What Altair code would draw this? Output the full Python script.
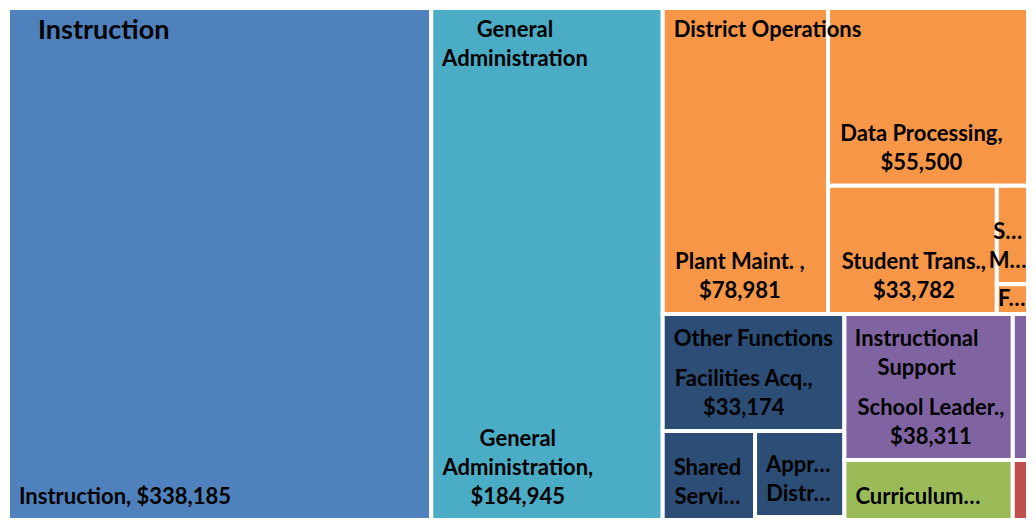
import altair as alt
import pandas as pd

# ---------------- data ----------------
group_names = ["Instruction", "General Administration", "District Operations",
               "Other Functions", "Instructional Support", "Curriculum", "Other"]
group_colors = ["#4F81BD", "#4BACC6", "#F79646", "#2C4D75", "#8064A2", "#9BBB59", "#C0504D"]
group_titles = ["Instruction", "General\nAdministration", "District Operations",
                "Other Functions", "Instructional\nSupport", "", ""]

leaf_names = ["Instruction", "General Administration", "Plant Maint.", "Data Processing",
              "Student Trans.", "S… M…", "F…", "Facilities Acq.", "Shared Services",
              "Appr… Distr…", "(small)", "School Leader.", "(small purple)", "Curriculum…",
              "(small red)"]
leaf_group = [0, 1, 2, 2, 2, 2, 2, 3, 3, 3, 3, 4, 4, 5, 6]
leaf_values = [338185, 184945, 78981, 55500, 33782, 4790, 1450, 33174, 12810,
               11980, 416, 38311, 3459, 15790, 1430]
leaf_labels = ["Instruction, $338,185", "General\nAdministration,\n$184,945",
               "Plant Maint. ,\n$78,981", "Data Processing,\n$55,500",
               "Student Trans.,\n$33,782", "S…\nM…", "F…", "Facilities Acq.,\n$33,174",
               "Shared\nServi…", "Appr…\nDistr…", "", "School Leader.,\n$38,311", "",
               "Curriculum…", ""]

# slicing structure of the treemap (h = side by side, v = stacked); sizes come from values
layout = ("h", [0, 1,
                ("v", [("h", [2, ("v", [3, ("h", [4, ("v", [5, 6])])])]),
                       ("h", [("v", [7, ("h", [8, ("v", [9, 10])])]),
                              ("v", [("h", [11, 12]), ("h", [13, 14])])])])])

# ---------------- layout ----------------
W, H = 1020, 512
PAD = 11
LH = 29
FS = 22
BIG = 27


def total(node):
    if isinstance(node, int):
        return leaf_values[node]
    return sum(total(c) for c in node[1])


rects = {}


def place(node, x0, y0, x1, y1):
    if isinstance(node, int):
        rects[node] = (x0, y0, x1, y1)
        return
    d, kids = node
    t = total(node)
    pos = x0 if d == "h" else y0
    for k in kids:
        f = total(k) / t
        if d == "h":
            w = (x1 - x0) * f
            place(k, pos, y0, pos + w, y1)
            pos += w
        else:
            h = (y1 - y0) * f
            place(k, x0, pos, x1, pos + h)
            pos += h


place(layout, 0, 0, W, H)

CW = {c: 0.26 for c in "ijl.,' "}
CW.update({c: 0.37 for c in "frt"})
CW.update({c: 0.45 for c in "csz"})
CW.update({c: 0.86 for c in "mw"})
CW.update({"M": 0.85, "I": 0.29, "…": 0.8, "S": 0.5, "F": 0.52})


def text_w(s, fs):
    return max(sum(CW.get(ch, 0.58 if (ch.isdigit() or ch == "$") else
                          (0.66 if ch.isupper() else 0.55)) for ch in line)
               for line in s.split("\n")) * fs


rect_rows = []
lab_left, lab_center = [], []
for i in range(len(leaf_values)):
    x0, y0, x1, y1 = rects[i]
    rect_rows.append(dict(name=leaf_names[i], group=group_names[leaf_group[i]],
                          value=leaf_values[i], x0=x0, x1=x1, y0=y0, y1=y1))
    lab = leaf_labels[i]
    if not lab:
        continue
    n = lab.count("\n") + 1
    bw = text_w(lab, FS)
    # y is the centre of the first line (lines run downward)
    if y1 - y0 < 50:
        cy = (y0 + y1) / 2 - (n - 1) * LH / 2
    else:
        cy = y1 - 23 - (n - 1) * LH
    if bw + PAD > x1 - x0:
        cx = min((x0 + x1) / 2, W - bw * 0.56)
        lab_center.append(dict(x=cx, y=cy, text=lab))
    elif n == 1:
        lab_left.append(dict(x=x0 + PAD, y=cy, text=lab))
    else:
        lab_center.append(dict(x=x0 + PAD + bw / 2, y=cy, text=lab))

big_rows = []
for g, title in enumerate(group_titles):
    if not title:
        continue
    rs = [rects[i] for i in range(len(leaf_values)) if leaf_group[i] == g]
    gx0 = min(r[0] for r in rs)
    gy0 = min(r[1] for r in rs)
    n = title.count("\n") + 1
    if g == 0:
        big_rows.append(dict(x=gx0 + 30, y=gy0 + 23, text=title))
        continue
    cy = gy0 + 22 if gy0 < 1 else gy0 + 25
    if n == 1:
        lab_left.append(dict(x=gx0 + PAD, y=cy, text=title))
    else:
        lab_center.append(dict(x=gx0 + PAD + text_w(title, FS) / 2, y=cy, text=title))

rdf = pd.DataFrame(rect_rows)
xs = alt.Scale(domain=[0, W], nice=False, zero=False)
ys = alt.Scale(domain=[0, H], nice=False, zero=False, reverse=True)

rects_layer = alt.Chart(rdf).mark_rect(stroke="white", strokeWidth=4).encode(
    x=alt.X("x0:Q", scale=xs, axis=None),
    x2="x1:Q",
    y=alt.Y("y0:Q", scale=ys, axis=None),
    y2="y1:Q",
    color=alt.Color("group:N", scale=alt.Scale(domain=group_names, range=group_colors),
                    legend=None),
    tooltip=["group:N", "name:N", alt.Tooltip("value:Q", format="$,")],
)


def text_layer(rows, align, fs):
    return alt.Chart(pd.DataFrame(rows)).mark_text(
        align=align, baseline="middle", font="Lato", fontWeight="bold", fontSize=fs,
        lineBreak="\n", lineHeight=LH, color="#000000",
    ).encode(
        x=alt.X("x:Q", scale=xs, axis=None),
        y=alt.Y("y:Q", scale=ys, axis=None),
        text="text:N",
    )


chart = alt.layer(
    rects_layer,
    text_layer(lab_left, "left", FS),
    text_layer(lab_center, "center", FS),
    text_layer(big_rows, "left", BIG),
).properties(
    width=W, height=H, padding=0, autosize=alt.AutoSizeParams(type="none"),
    background="white",
).configure_view(stroke=None)

chart.save("out.html", embed_options={"renderer": "svg", "actions": False})
